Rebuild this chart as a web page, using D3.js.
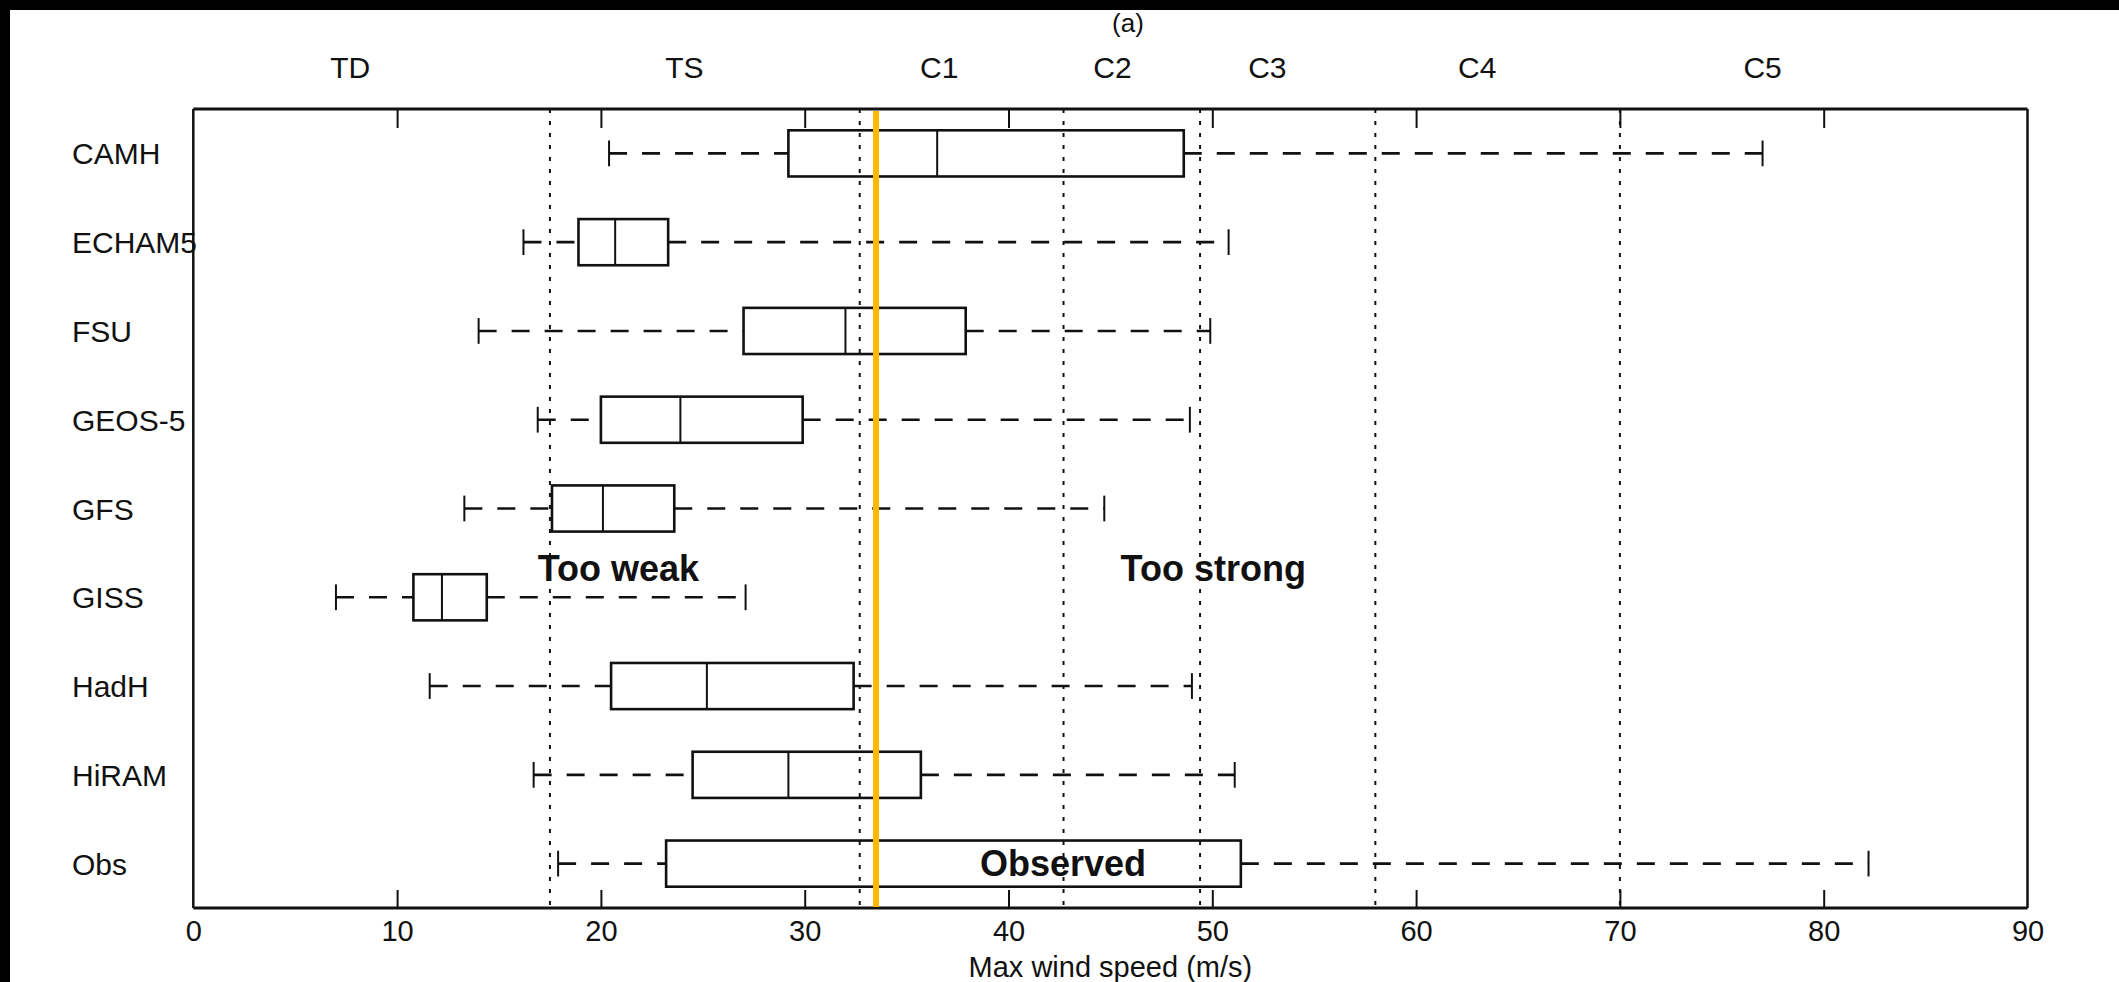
<!DOCTYPE html>
<html>
<head>
<meta charset="utf-8">
<script src="https://cdn.jsdelivr.net/npm/d3@7"></script>
<style>
  html, body { margin: 0; padding: 0; background: #fff; overflow: hidden; }
  svg { display: block; }
  text { font-family: "Liberation Sans", Arial, Helvetica, sans-serif; fill: #111; }
</style>
</head>
<body>
<svg id="chart" width="2119" height="982"></svg>
<script>
// ---------------- data ----------------
const categories  = ["CAMH", "ECHAM5", "FSU", "GEOS-5", "GFS", "GISS", "HadH", "HiRAM", "Obs"];
const whiskerLow  = [20.4, 16.2, 14.0, 16.9, 13.3,  7.0, 11.6, 16.7, 17.9];
const q1          = [29.2, 18.9, 27.0, 20.0, 17.6, 10.8, 20.5, 24.5, 23.2];
const median      = [36.5, 20.7, 32.0, 23.9, 20.1, 12.2, 25.2, 29.2, 33.5];
const q3          = [48.6, 23.3, 37.9, 29.9, 23.6, 14.4, 32.4, 35.7, 51.4];
const whiskerHigh = [77.0, 50.8, 49.9, 48.9, 44.7, 27.1, 49.0, 51.1, 82.2];

const thresholds     = [17.5, 32.7, 42.7, 49.4, 58, 70];
const classLabels    = ["TD", "TS", "C1", "C2", "C3", "C4", "C5"];
const classLabelAt   = [7.7, 24.1, 36.6, 45.1, 52.7, 63.0, 77.0];
const xTickValues    = [0, 10, 20, 30, 40, 50, 60, 70, 80, 90];
const innerTicks     = [10, 20, 30, 40, 50, 60, 70, 80];
const xDomain        = [0, 90];
const observedMedian = median[categories.indexOf("Obs")];

(function () {
// ---------------- layout ----------------
const W = 2119, H = 982;
const pLeft = 193.3, pRight = 2027.5, pTop = 109, pBottom = 908;

const svg = d3.select("#chart");

// black frame of the scanned picture (top and left)
svg.append("rect").attr("x", 0).attr("y", 0).attr("width", W).attr("height", 10).attr("fill", "#000");
svg.append("rect").attr("x", 0).attr("y", 0).attr("width", 10).attr("height", H).attr("fill", "#000");

const x = d3.scaleLinear().domain(xDomain).range([pLeft, pRight]);
const y = d3.scalePoint().domain(categories).range([pTop, pBottom]).padding(0.5);
const step = y.step();
const boxHalf = step * 0.26;
const capHalf = step * 0.145;

// threshold (category boundary) dotted lines
svg.append("g").selectAll("line").data(thresholds).join("line")
  .attr("x1", d => x(d)).attr("x2", d => x(d))
  .attr("y1", pTop).attr("y2", pBottom)
  .attr("stroke", "#111").attr("stroke-width", 2)
  .attr("stroke-dasharray", "4,8");

// bottom axis labels
const axB = svg.append("g").attr("transform", `translate(0,${pBottom})`)
  .call(d3.axisBottom(x).tickValues(xTickValues).tickSize(0).tickPadding(12).tickFormat(d3.format("d")));
axB.select(".domain").remove();
axB.selectAll("text").attr("font-size", 29).attr("fill", "#111")
  .attr("font-family", '"Liberation Sans", Arial, sans-serif');

// inner tick marks bottom & top
svg.append("g").attr("transform", `translate(0,${pBottom})`)
  .call(d3.axisBottom(x).tickValues(innerTicks).tickSize(-18).tickFormat(""))
  .call(gg => gg.select(".domain").remove())
  .selectAll("line").attr("stroke", "#111").attr("stroke-width", 2);
svg.append("g").attr("transform", `translate(0,${pTop})`)
  .call(d3.axisTop(x).tickValues(innerTicks).tickSize(-19).tickFormat(""))
  .call(gg => gg.select(".domain").remove())
  .selectAll("line").attr("stroke", "#111").attr("stroke-width", 2);

// frame
svg.append("line").attr("x1", pLeft).attr("x2", pRight).attr("y1", pTop).attr("y2", pTop).attr("stroke", "#111").attr("stroke-width", 3);
svg.append("line").attr("x1", pLeft).attr("x2", pRight).attr("y1", pBottom).attr("y2", pBottom).attr("stroke", "#111").attr("stroke-width", 3);
svg.append("line").attr("x1", pLeft).attr("x2", pLeft).attr("y1", pTop).attr("y2", pBottom).attr("stroke", "#111").attr("stroke-width", 2.5);
svg.append("line").attr("x1", pRight).attr("x2", pRight).attr("y1", pTop).attr("y2", pBottom).attr("stroke", "#111").attr("stroke-width", 2.5);

// boxplots
const rows = categories.map((c, i) => ({
  c, lo: whiskerLow[i], q1: q1[i], med: median[i], q3: q3[i], hi: whiskerHigh[i]
}));
const g = svg.append("g").selectAll("g").data(rows).join("g");

// whiskers (dashed, drawn left to right)
g.append("line").attr("x1", d => x(d.lo)).attr("x2", d => x(d.q1))
  .attr("y1", d => y(d.c)).attr("y2", d => y(d.c))
  .attr("stroke", "#111").attr("stroke-width", 2.6).attr("stroke-dasharray", "18,15");
g.append("line").attr("x1", d => x(d.q3)).attr("x2", d => x(d.hi))
  .attr("y1", d => y(d.c)).attr("y2", d => y(d.c))
  .attr("stroke", "#111").attr("stroke-width", 2.6).attr("stroke-dasharray", "18,15");
// caps
g.append("line").attr("x1", d => x(d.lo)).attr("x2", d => x(d.lo))
  .attr("y1", d => y(d.c) - capHalf).attr("y2", d => y(d.c) + capHalf)
  .attr("stroke", "#111").attr("stroke-width", 2);
g.append("line").attr("x1", d => x(d.hi)).attr("x2", d => x(d.hi))
  .attr("y1", d => y(d.c) - capHalf).attr("y2", d => y(d.c) + capHalf)
  .attr("stroke", "#111").attr("stroke-width", 2);
// boxes
g.append("rect").attr("x", d => x(d.q1)).attr("width", d => x(d.q3) - x(d.q1))
  .attr("y", d => y(d.c) - boxHalf).attr("height", boxHalf * 2)
  .attr("fill", "none").attr("stroke", "#111").attr("stroke-width", 2.6);
// medians
g.append("line").attr("x1", d => x(d.med)).attr("x2", d => x(d.med))
  .attr("y1", d => y(d.c) - boxHalf).attr("y2", d => y(d.c) + boxHalf)
  .attr("stroke", "#111").attr("stroke-width", 2);

// observed median line
svg.append("line").attr("x1", x(observedMedian)).attr("x2", x(observedMedian))
  .attr("y1", pTop + 2).attr("y2", pBottom - 1)
  .attr("stroke", "#FFB800").attr("stroke-width", 6);

// category labels (left)
svg.append("g").selectAll("text").data(categories).join("text")
  .attr("x", 72).attr("y", d => y(d) + 11)
  .attr("font-size", 30).text(d => d);

// intensity class labels (top)
svg.append("g").selectAll("text").data(classLabels).join("text")
  .attr("x", (d, i) => x(classLabelAt[i])).attr("y", 78)
  .attr("text-anchor", "middle").attr("font-size", 30).text(d => d);

// annotations
svg.append("text").attr("x", x(16.9)).attr("y", y("GISS") - 16)
  .attr("font-size", 36).attr("font-weight", "bold").attr("fill", "#000").text("Too weak");
svg.append("text").attr("x", x(45.5)).attr("y", y("GISS") - 16)
  .attr("font-size", 36).attr("font-weight", "bold").attr("fill", "#000").text("Too strong");
svg.append("text").attr("x", x(38.6)).attr("y", y("Obs") + 12)
  .attr("font-size", 36).attr("font-weight", "bold").attr("fill", "#000").text("Observed");

// title and axis label
svg.append("text").attr("x", 1128).attr("y", 32).attr("text-anchor", "middle")
  .attr("font-size", 26).text("(a)");
svg.append("text").attr("x", x(45)).attr("y", 977).attr("text-anchor", "middle")
  .attr("font-size", 29).text("Max wind speed (m/s)");
})();
</script>
</body>
</html>
